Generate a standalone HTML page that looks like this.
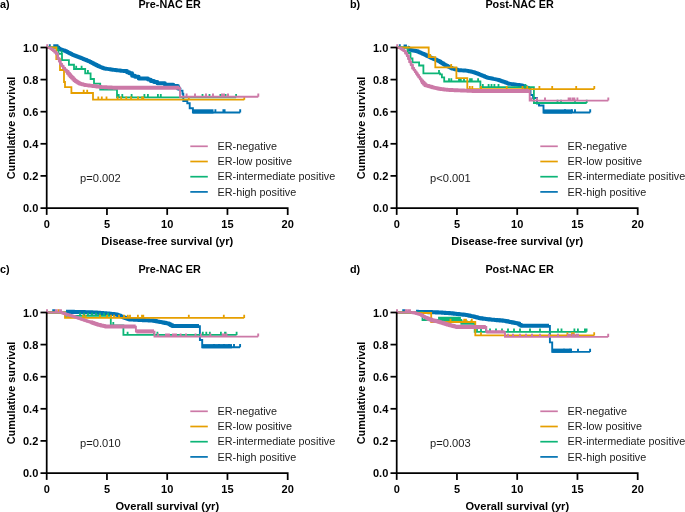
<!DOCTYPE html>
<html><head><meta charset="utf-8"><style>
html,body{margin:0;padding:0;background:#fff;width:685px;height:512px;overflow:hidden}
svg{display:block;will-change:transform}
text{font-family:"Liberation Sans",sans-serif}
.b10{font-weight:bold;font-size:10.8px;fill:#000}
.b11{font-weight:bold;font-size:11.1px;fill:#000}
.b11y{font-weight:bold;font-size:10.85px;fill:#000}
.tl{font-weight:bold;font-size:11px;fill:#000}
.lg{font-size:10.8px;fill:#1c1c1c}
.pv{font-size:11.15px;fill:#1c1c1c}
</style></head><body>
<svg width="685" height="512" viewBox="0 0 685 512">
<g transform="translate(0 0)">
<text x="-0.1" y="7.6" class="b10">a)</text>
<text x="169.6" y="7.9" class="b10" text-anchor="middle">Pre-NAC ER</text>
<text transform="translate(15.0 128) rotate(-90)" class="b11y" text-anchor="middle">Cumulative survival</text>
<text x="167.3" y="244.8" class="b11" text-anchor="middle">Disease-free survival (yr)</text>
<path d="M46.70 47.50 H58.00 H58.60 V48.80 H59.20 H59.84 V49.24 H61.12 V49.68 H62.40 V50.12 H63.68 V50.56 H64.96 V51.00 H65.60 H66.25 V51.67 H67.55 V52.33 H68.85 V53.00 H70.15 V53.67 H71.45 V54.33 H72.75 V55.00 H73.40 H74.06 V55.50 H75.38 V56.00 H76.69 V56.50 H78.01 V57.00 H79.33 V57.50 H80.64 V58.00 H81.30 H82.03 V58.60 H83.48 V59.20 H84.93 V59.80 H86.38 V60.40 H87.83 V61.00 H89.28 V61.60 H90.00 H90.74 V62.38 H92.22 V63.17 H93.71 V63.95 H95.19 V64.73 H96.68 V65.52 H98.16 V66.30 H98.90 H99.63 V66.85 H101.08 V67.40 H102.53 V67.95 H103.98 V68.50 H104.70 H105.36 V68.70 H106.69 V68.90 H108.02 V69.10 H109.35 V69.30 H110.68 V69.50 H112.01 V69.70 H113.34 V69.90 H114.00 H114.71 V70.06 H116.14 V70.21 H117.57 V70.37 H119.00 V70.53 H120.43 V70.69 H121.86 V70.84 H123.29 V71.00 H124.00 H127 V72.3 H129.3 V73.3 H132.1 V75.7 H135 V76.8 H138.7 V78.5 H148 V79.6 H150.8 V81 H154 V82 H157.4 V83.3 H164.9 V84.7 H173.3 V86 H177.9 V88.5 H179.5 V89.5 H180 V90.6 H182.5 V93.7 H183.3 V101 H187.3 V103.3 H189.7 V108.2 H192.9 V112.5 H240.2 M49.80 44.30 V47.50 M54.20 44.30 V47.50 M55.60 44.30 V47.50 M57.50 44.30 V47.50 M215.40 109.30 V112.50 M223.40 109.30 V112.50 M224.60 109.30 V112.50 M240.20 109.30 V112.50" stroke="#0072B2" stroke-width="1.9" fill="none" stroke-linejoin="miter" stroke-linecap="butt"/>
<path d="M58.00 47.50 H58.60 V48.80 H59.20 H59.84 V49.24 H61.12 V49.68 H62.40 V50.12 H63.68 V50.56 H64.96 V51.00 H65.60 H66.25 V51.67 H67.55 V52.33 H68.85 V53.00 H70.15 V53.67 H71.45 V54.33 H72.75 V55.00 H73.40 H74.06 V55.50 H75.38 V56.00 H76.69 V56.50 H78.01 V57.00 H79.33 V57.50 H80.64 V58.00 H81.30 H82.03 V58.60 H83.48 V59.20 H84.93 V59.80 H86.38 V60.40 H87.83 V61.00 H89.28 V61.60 H90.00 H90.74 V62.38 H92.22 V63.17 H93.71 V63.95 H95.19 V64.73 H96.68 V65.52 H98.16 V66.30 H98.90 H99.63 V66.85 H101.08 V67.40 H102.53 V67.95 H103.98 V68.50 H104.70 H105.36 V68.70 H106.69 V68.90 H108.02 V69.10 H109.35 V69.30 H110.68 V69.50 H112.01 V69.70 H113.34 V69.90 H114.00 H114.71 V70.06 H116.14 V70.21 H117.57 V70.37 H119.00 V70.53 H120.43 V70.69 H121.86 V70.84 H123.29 V71.00 H124.00 H127 V72.3 H129.3 V73.3 H132.1 V75.7 H135 V76.8 H138.7 V78.5 H148 V79.6 H150.8 V81 H154 V82 H157.4 V83.3 H164.9 V84.7 H173.3 V86 H177.9 V88.5 H179.5 V89.5" stroke="#0072B2" stroke-width="3.9" fill="none" stroke-linejoin="round"/>
<path d="M193 111.4 H213.5" stroke="#0072B2" stroke-width="4.2" fill="none" stroke-linejoin="round"/>
<path d="M46.7 47.5 H57.4 V50 H58.5 V53.8 H62 V60.1 H68.9 V64.75 H74 V69 H85.2 V73.3 H90.6 V79 H94 V83.6 H100.2 V89.5 H117 V97.3 H236.1 M61.70 50.60 V53.80 M76.20 65.80 V69.00 M81.60 65.80 V69.00 M87.90 70.10 V73.30 M118.70 94.10 V97.30 M122.30 94.10 V97.30 M131.60 94.10 V97.30 M144.40 94.10 V97.30 M147.90 94.10 V97.30 M157.90 94.10 V97.30 M160.80 94.10 V97.30 M202.50 94.10 V97.30 M209.50 94.10 V97.30 M220.40 94.10 V97.30 M225.60 94.10 V97.30 M236.10 94.10 V97.30" stroke="#0DB577" stroke-width="1.8" fill="none" stroke-linejoin="miter" stroke-linecap="butt"/>
<path d="M46.7 47.5 H56.3 V59.1 H60 V70 H64 V82 H65 V87.2 H71.4 V93 H93 V99.7 H244.3 M83.70 89.80 V93.00 M87.20 89.80 V93.00 M98.30 96.50 V99.70 M101.80 96.50 V99.70 M106.50 96.50 V99.70 M117.60 96.50 V99.70 M121.10 96.50 V99.70 M126.30 96.50 V99.70 M131.00 96.50 V99.70 M138.00 96.50 V99.70 M142.10 96.50 V99.70 M143.30 96.50 V99.70 M188.80 96.50 V99.70 M244.30 96.50 V99.70" stroke="#E69F00" stroke-width="1.8" fill="none" stroke-linejoin="miter" stroke-linecap="butt"/>
<path d="M46.70 47.50 H47.25 V47.67 H48.35 V47.83 H49.45 V48.00 H50.00 H50.65 V48.90 H51.95 V49.80 H53.25 V50.70 H53.90 H54.68 V52.25 H56.23 V53.80 H57.00 H57.80 V58.50 H58.60 H59.17 V61.25 H60.33 V64.00 H60.90 H61.68 V65.95 H63.23 V67.90 H64.00 H64.80 V69.85 H66.40 V71.80 H67.20 H67.85 V73.37 H69.15 V74.93 H70.45 V76.50 H71.10 H71.75 V77.80 H73.05 V79.10 H74.35 V80.40 H75.00 H75.59 V81.18 H76.76 V81.95 H77.94 V82.72 H79.11 V83.50 H79.70 H80.39 V83.88 H81.76 V84.25 H83.14 V84.62 H84.51 V85.00 H85.20 H85.85 V85.17 H87.15 V85.33 H88.45 V85.50 H89.75 V85.67 H91.05 V85.83 H92.35 V86.00 H93.00 H93.67 V86.16 H95.01 V86.31 H96.36 V86.47 H97.70 V86.63 H99.04 V86.79 H100.39 V86.94 H101.73 V87.10 H102.40 H103.04 V87.17 H104.33 V87.23 H105.62 V87.30 H106.91 V87.37 H108.20 V87.43 H109.49 V87.50 H110.78 V87.57 H112.07 V87.63 H113.36 V87.70 H114.00 H114.62 V87.71 H115.88 V87.72 H117.12 V87.74 H118.38 V87.75 H119.62 V87.76 H120.88 V87.78 H122.12 V87.79 H123.38 V87.80 H124.00 H180 V96.8 H258.3 M47.20 44.30 V47.50 M186.60 93.60 V96.80 M195.00 93.60 V96.80 M206.00 93.60 V96.80 M213.00 93.60 V96.80 M222.00 93.60 V96.80 M224.00 93.60 V96.80 M228.00 93.60 V96.80 M258.30 93.60 V96.80" stroke="#CC79A7" stroke-width="1.9" fill="none" stroke-linejoin="miter" stroke-linecap="butt"/>
<path d="M50.00 48.00 H50.65 V48.90 H51.95 V49.80 H53.25 V50.70 H53.90 H54.68 V52.25 H56.23 V53.80 H57.00 H57.80 V58.50 H58.60 H59.17 V61.25 H60.33 V64.00 H60.90 H61.68 V65.95 H63.23 V67.90 H64.00 H64.80 V69.85 H66.40 V71.80 H67.20" stroke="#CC79A7" stroke-width="2.5" fill="none" stroke-linejoin="round"/>
<path d="M67.20 71.80 H67.85 V73.37 H69.15 V74.93 H70.45 V76.50 H71.10 H71.75 V77.80 H73.05 V79.10 H74.35 V80.40 H75.00 H75.59 V81.18 H76.76 V81.95 H77.94 V82.72 H79.11 V83.50 H79.70 H80.39 V83.88 H81.76 V84.25 H83.14 V84.62 H84.51 V85.00 H85.20 H85.85 V85.17 H87.15 V85.33 H88.45 V85.50 H89.75 V85.67 H91.05 V85.83 H92.35 V86.00 H93.00 H93.67 V86.16 H95.01 V86.31 H96.36 V86.47 H97.70 V86.63 H99.04 V86.79 H100.39 V86.94 H101.73 V87.10 H102.40 H103.04 V87.17 H104.33 V87.23 H105.62 V87.30 H106.91 V87.37 H108.20 V87.43 H109.49 V87.50 H110.78 V87.57 H112.07 V87.63 H113.36 V87.70 H114.00 H114.62 V87.71 H115.88 V87.72 H117.12 V87.74 H118.38 V87.75 H119.62 V87.76 H120.88 V87.78 H122.12 V87.79 H123.38 V87.80 H124.00 H179" stroke="#CC79A7" stroke-width="3.9" fill="none" stroke-linejoin="round"/>
<path d="M46.7 47.2 V214.9" stroke="#000" stroke-width="1.75" fill="none"/>
<path d="M40.5 208.0 H287.70 V214.9" stroke="#000" stroke-width="1.75" fill="none"/>
<path d="M40.5 175.90 H46.7" stroke="#000" stroke-width="1.75"/>
<path d="M40.5 143.80 H46.7" stroke="#000" stroke-width="1.75"/>
<path d="M40.5 111.70 H46.7" stroke="#000" stroke-width="1.75"/>
<path d="M40.5 79.60 H46.7" stroke="#000" stroke-width="1.75"/>
<path d="M40.5 47.50 H46.7" stroke="#000" stroke-width="1.75"/>
<path d="M106.95 208.0 V214.9" stroke="#000" stroke-width="1.75"/>
<path d="M167.20 208.0 V214.9" stroke="#000" stroke-width="1.75"/>
<path d="M227.45 208.0 V214.9" stroke="#000" stroke-width="1.75"/>
<text x="38.3" y="212.20" class="tl" text-anchor="end">0.0</text>
<text x="38.3" y="180.10" class="tl" text-anchor="end">0.2</text>
<text x="38.3" y="148.00" class="tl" text-anchor="end">0.4</text>
<text x="38.3" y="115.90" class="tl" text-anchor="end">0.6</text>
<text x="38.3" y="83.80" class="tl" text-anchor="end">0.8</text>
<text x="38.3" y="51.70" class="tl" text-anchor="end">1.0</text>
<text x="46.70" y="227.7" class="tl" text-anchor="middle">0</text>
<text x="106.95" y="227.7" class="tl" text-anchor="middle">5</text>
<text x="167.20" y="227.7" class="tl" text-anchor="middle">10</text>
<text x="227.45" y="227.7" class="tl" text-anchor="middle">15</text>
<text x="287.70" y="227.7" class="tl" text-anchor="middle">20</text>
<path d="M190.3 146.30 H207.8" stroke="#CC79A7" stroke-width="1.7"/>
<text x="217.6" y="150.00" class="lg">ER-negative</text>
<path d="M190.3 161.50 H207.8" stroke="#E69F00" stroke-width="1.7"/>
<text x="217.6" y="165.20" class="lg">ER-low positive</text>
<path d="M190.3 176.70 H207.8" stroke="#0DB577" stroke-width="1.7"/>
<text x="217.6" y="180.40" class="lg">ER-intermediate positive</text>
<path d="M190.3 191.90 H207.8" stroke="#0072B2" stroke-width="1.7"/>
<text x="217.6" y="195.60" class="lg">ER-high positive</text>
<text x="80.0" y="181.7" class="pv">p=0.002</text>
</g>
<g transform="translate(350 0)">
<text x="-0.1" y="7.6" class="b10">b)</text>
<text x="169.6" y="7.9" class="b10" text-anchor="middle">Post-NAC ER</text>
<text transform="translate(15.0 128) rotate(-90)" class="b11y" text-anchor="middle">Cumulative survival</text>
<text x="167.3" y="244.8" class="b11" text-anchor="middle">Disease-free survival (yr)</text>
<path d="M46.70 47.50 H47.41 V47.51 H48.82 V47.52 H50.23 V47.54 H51.64 V47.55 H53.06 V47.56 H54.47 V47.58 H55.88 V47.59 H57.29 V47.60 H58.00 H58.60 V49.60 H59.20 H59.88 V49.88 H61.25 V50.17 H62.62 V50.45 H63.98 V50.73 H65.35 V51.02 H66.72 V51.30 H67.40 H68.10 V51.90 H69.50 V52.50 H70.90 V53.10 H72.30 V53.70 H73.70 V54.30 H74.40 H75.10 V55.00 H76.50 V55.70 H77.90 V56.40 H79.30 V57.10 H80.70 V57.80 H81.40 H82.10 V58.38 H83.50 V58.96 H84.90 V59.54 H86.30 V60.12 H87.70 V60.70 H88.40 H89.10 V61.56 H90.50 V62.42 H91.90 V63.28 H93.30 V64.14 H94.70 V65.00 H95.40 H96.10 V65.70 H97.50 V66.40 H98.90 V67.10 H100.30 V67.80 H101.70 V68.50 H102.40 H103.10 V68.84 H104.50 V69.18 H105.90 V69.52 H107.30 V69.86 H108.70 V70.20 H109.40 H110.10 V70.28 H111.50 V70.36 H112.90 V70.44 H114.30 V70.52 H115.70 V70.60 H116.40 H117.16 V70.92 H118.68 V71.24 H120.20 V71.56 H121.72 V71.88 H123.24 V72.20 H124.00 H124.70 V72.74 H126.10 V73.28 H127.50 V73.82 H128.90 V74.36 H130.30 V74.90 H131.00 H131.70 V75.48 H133.10 V76.06 H134.50 V76.64 H135.90 V77.22 H137.30 V77.80 H138.00 H138.67 V78.06 H140.01 V78.31 H141.36 V78.57 H142.70 V78.83 H144.04 V79.09 H145.39 V79.34 H146.73 V79.60 H147.40 H148.10 V80.06 H149.50 V80.52 H150.90 V80.98 H152.30 V81.44 H153.70 V81.90 H154.40 H155.17 V82.50 H156.70 V83.10 H158.23 V83.70 H159.00 H159.72 V83.89 H161.15 V84.08 H162.58 V84.27 H164.02 V84.46 H165.45 V84.64 H166.88 V84.83 H168.32 V85.02 H169.75 V85.21 H171.18 V85.40 H171.90 H172.60 V86.00 H174.00 V86.60 H175.40 V87.20 H176.80 V87.80 H178.20 V88.40 H178.90 H180.5 V95 H183 V98 H187 V103.5 H189 V105.5 H193.5 V112.5 H240.2 M49.80 44.32 V47.52 M54.50 44.38 V47.58 M56.00 44.39 V47.59 M215.00 109.30 V112.50 M222.00 109.30 V112.50 M225.00 109.30 V112.50 M240.20 109.30 V112.50" stroke="#0072B2" stroke-width="1.9" fill="none" stroke-linejoin="miter" stroke-linecap="butt"/>
<path d="M58.00 47.60 H58.60 V49.60 H59.20 H59.88 V49.88 H61.25 V50.17 H62.62 V50.45 H63.98 V50.73 H65.35 V51.02 H66.72 V51.30 H67.40 H68.10 V51.90 H69.50 V52.50 H70.90 V53.10 H72.30 V53.70 H73.70 V54.30 H74.40 H75.10 V55.00 H76.50 V55.70 H77.90 V56.40 H79.30 V57.10 H80.70 V57.80 H81.40 H82.10 V58.38 H83.50 V58.96 H84.90 V59.54 H86.30 V60.12 H87.70 V60.70 H88.40 H89.10 V61.56 H90.50 V62.42 H91.90 V63.28 H93.30 V64.14 H94.70 V65.00 H95.40 H96.10 V65.70 H97.50 V66.40 H98.90 V67.10 H100.30 V67.80 H101.70 V68.50 H102.40 H103.10 V68.84 H104.50 V69.18 H105.90 V69.52 H107.30 V69.86 H108.70 V70.20 H109.40 H110.10 V70.28 H111.50 V70.36 H112.90 V70.44 H114.30 V70.52 H115.70 V70.60 H116.40 H117.16 V70.92 H118.68 V71.24 H120.20 V71.56 H121.72 V71.88 H123.24 V72.20 H124.00 H124.70 V72.74 H126.10 V73.28 H127.50 V73.82 H128.90 V74.36 H130.30 V74.90 H131.00 H131.70 V75.48 H133.10 V76.06 H134.50 V76.64 H135.90 V77.22 H137.30 V77.80 H138.00 H138.67 V78.06 H140.01 V78.31 H141.36 V78.57 H142.70 V78.83 H144.04 V79.09 H145.39 V79.34 H146.73 V79.60 H147.40 H148.10 V80.06 H149.50 V80.52 H150.90 V80.98 H152.30 V81.44 H153.70 V81.90 H154.40 H155.17 V82.50 H156.70 V83.10 H158.23 V83.70 H159.00 H159.72 V83.89 H161.15 V84.08 H162.58 V84.27 H164.02 V84.46 H165.45 V84.64 H166.88 V84.83 H168.32 V85.02 H169.75 V85.21 H171.18 V85.40 H171.90 H172.60 V86.00 H174.00 V86.60 H175.40 V87.20 H176.80 V87.80 H178.20 V88.40 H178.90" stroke="#0072B2" stroke-width="3.9" fill="none" stroke-linejoin="round"/>
<path d="M193.5 111.5 H222" stroke="#0072B2" stroke-width="4.2" fill="none" stroke-linejoin="round"/>
<path d="M46.7 47.5 H57.8 V53 H60.5 V58.5 H62.5 V62.4 H69.1 V65.5 H73.4 V73.3 H90.1 V74.3 H91.9 V77.3 H94.2 V81.5 H130.4 V87.2 H183.9 V103 H236.7 M89.00 70.10 V73.30 M99.00 78.30 V81.50 M101.30 78.30 V81.50 M109.00 78.30 V81.50 M110.80 78.30 V81.50 M114.00 78.30 V81.50 M120.00 78.30 V81.50 M121.80 78.30 V81.50 M128.10 78.30 V81.50 M132.80 84.00 V87.20 M138.60 84.00 V87.20 M141.50 84.00 V87.20 M144.40 84.00 V87.20 M148.50 84.00 V87.20 M175.40 84.00 V87.20 M207.50 99.80 V103.00 M211.00 99.80 V103.00 M225.00 99.80 V103.00 M236.70 99.80 V103.00" stroke="#0DB577" stroke-width="1.8" fill="none" stroke-linejoin="miter" stroke-linecap="butt"/>
<path d="M46.7 47.5 H78.7 V57.1 H85.3 V67.3 H106.4 V78.1 H117.3 V89.1 H244.3 M80.20 53.90 V57.10 M101.20 64.10 V67.30 M119.80 85.90 V89.10 M122.30 85.90 V89.10 M131.00 85.90 V89.10 M156.70 85.90 V89.10 M172.50 85.90 V89.10 M177.20 85.90 V89.10 M189.40 85.90 V89.10 M202.20 85.90 V89.10 M226.20 85.90 V89.10 M244.30 85.90 V89.10" stroke="#E69F00" stroke-width="1.8" fill="none" stroke-linejoin="miter" stroke-linecap="butt"/>
<path d="M46.70 47.50 H47.25 V47.63 H48.35 V47.77 H49.45 V47.90 H50.00 H50.59 V48.67 H51.76 V49.45 H52.94 V50.23 H54.11 V51.00 H54.70 H55.48 V53.35 H57.02 V55.70 H57.80 H58.40 V58.85 H59.60 V62.00 H60.20 H60.98 V65.10 H62.52 V68.20 H63.30 H63.89 V69.95 H65.06 V71.70 H66.24 V73.45 H67.41 V75.20 H68.00 H68.65 V77.23 H69.95 V79.27 H71.25 V81.30 H71.90 H72.55 V82.60 H73.85 V83.90 H75.15 V85.20 H75.80 H76.48 V85.60 H77.85 V86.00 H79.22 V86.40 H80.58 V86.80 H81.95 V87.20 H83.32 V87.60 H84.00 H84.67 V87.88 H86.01 V88.16 H87.35 V88.44 H88.69 V88.72 H90.03 V89.00 H90.70 H91.34 V89.15 H92.62 V89.30 H93.91 V89.45 H95.19 V89.60 H96.48 V89.75 H97.76 V89.90 H98.40 H99.04 V89.96 H100.32 V90.01 H101.60 V90.06 H102.88 V90.12 H104.16 V90.18 H105.44 V90.23 H106.72 V90.28 H108.00 V90.34 H109.28 V90.40 H110.56 V90.45 H111.84 V90.50 H113.12 V90.56 H114.40 V90.62 H115.68 V90.67 H116.96 V90.72 H118.24 V90.78 H119.52 V90.84 H120.80 V90.89 H122.08 V90.94 H123.36 V91.00 H124.00 H179.7 V100.6 H258.3 M47.20 44.30 V47.50 M181.50 97.40 V100.60 M187.00 97.40 V100.60 M195.00 97.40 V100.60 M218.60 97.40 V100.60 M220.40 97.40 V100.60 M222.70 97.40 V100.60 M224.40 97.40 V100.60 M227.40 97.40 V100.60 M258.30 97.40 V100.60" stroke="#CC79A7" stroke-width="1.9" fill="none" stroke-linejoin="miter" stroke-linecap="butt"/>
<path d="M50.00 47.90 H50.59 V48.67 H51.76 V49.45 H52.94 V50.23 H54.11 V51.00 H54.70 H55.48 V53.35 H57.02 V55.70 H57.80 H58.40 V58.85 H59.60 V62.00 H60.20 H60.98 V65.10 H62.52 V68.20 H63.30 H63.89 V69.95 H65.06 V71.70 H66.24 V73.45 H67.41 V75.20 H68.00 H68.65 V77.03 H69.95 V78.87 H71.25 V80.70 H71.90" stroke="#CC79A7" stroke-width="2.5" fill="none" stroke-linejoin="round"/>
<path d="M71.90 81.30 H72.55 V82.60 H73.85 V83.90 H75.15 V85.20 H75.80 H76.48 V85.60 H77.85 V86.00 H79.22 V86.40 H80.58 V86.80 H81.95 V87.20 H83.32 V87.60 H84.00 H84.67 V87.88 H86.01 V88.16 H87.35 V88.44 H88.69 V88.72 H90.03 V89.00 H90.70 H91.34 V89.15 H92.62 V89.30 H93.91 V89.45 H95.19 V89.60 H96.48 V89.75 H97.76 V89.90 H98.40 H99.04 V89.96 H100.32 V90.01 H101.60 V90.06 H102.88 V90.12 H104.16 V90.18 H105.44 V90.23 H106.72 V90.28 H108.00 V90.34 H109.28 V90.40 H110.56 V90.45 H111.84 V90.50 H113.12 V90.56 H114.40 V90.62 H115.68 V90.67 H116.96 V90.72 H118.24 V90.78 H119.52 V90.84 H120.80 V90.89 H122.08 V90.94 H123.36 V91.00 H124.00 H179" stroke="#CC79A7" stroke-width="3.9" fill="none" stroke-linejoin="round"/>
<path d="M46.7 47.2 V214.9" stroke="#000" stroke-width="1.75" fill="none"/>
<path d="M40.5 208.0 H287.70 V214.9" stroke="#000" stroke-width="1.75" fill="none"/>
<path d="M40.5 175.90 H46.7" stroke="#000" stroke-width="1.75"/>
<path d="M40.5 143.80 H46.7" stroke="#000" stroke-width="1.75"/>
<path d="M40.5 111.70 H46.7" stroke="#000" stroke-width="1.75"/>
<path d="M40.5 79.60 H46.7" stroke="#000" stroke-width="1.75"/>
<path d="M40.5 47.50 H46.7" stroke="#000" stroke-width="1.75"/>
<path d="M106.95 208.0 V214.9" stroke="#000" stroke-width="1.75"/>
<path d="M167.20 208.0 V214.9" stroke="#000" stroke-width="1.75"/>
<path d="M227.45 208.0 V214.9" stroke="#000" stroke-width="1.75"/>
<text x="38.3" y="212.20" class="tl" text-anchor="end">0.0</text>
<text x="38.3" y="180.10" class="tl" text-anchor="end">0.2</text>
<text x="38.3" y="148.00" class="tl" text-anchor="end">0.4</text>
<text x="38.3" y="115.90" class="tl" text-anchor="end">0.6</text>
<text x="38.3" y="83.80" class="tl" text-anchor="end">0.8</text>
<text x="38.3" y="51.70" class="tl" text-anchor="end">1.0</text>
<text x="46.70" y="227.7" class="tl" text-anchor="middle">0</text>
<text x="106.95" y="227.7" class="tl" text-anchor="middle">5</text>
<text x="167.20" y="227.7" class="tl" text-anchor="middle">10</text>
<text x="227.45" y="227.7" class="tl" text-anchor="middle">15</text>
<text x="287.70" y="227.7" class="tl" text-anchor="middle">20</text>
<path d="M190.3 146.30 H207.8" stroke="#CC79A7" stroke-width="1.7"/>
<text x="217.6" y="150.00" class="lg">ER-negative</text>
<path d="M190.3 161.50 H207.8" stroke="#E69F00" stroke-width="1.7"/>
<text x="217.6" y="165.20" class="lg">ER-low positive</text>
<path d="M190.3 176.70 H207.8" stroke="#0DB577" stroke-width="1.7"/>
<text x="217.6" y="180.40" class="lg">ER-intermediate positive</text>
<path d="M190.3 191.90 H207.8" stroke="#0072B2" stroke-width="1.7"/>
<text x="217.6" y="195.60" class="lg">ER-high positive</text>
<text x="80.0" y="181.7" class="pv">p&lt;0.001</text>
</g>
<g transform="translate(0 265)">
<text x="-0.1" y="7.6" class="b10">c)</text>
<text x="169.6" y="7.9" class="b10" text-anchor="middle">Pre-NAC ER</text>
<text transform="translate(15.0 128) rotate(-90)" class="b11y" text-anchor="middle">Cumulative survival</text>
<text x="167.3" y="244.8" class="b11" text-anchor="middle">Overall survival (yr)</text>
<path d="M46.70 47.50 H47.43 V47.51 H48.88 V47.51 H50.34 V47.52 H51.80 V47.52 H53.25 V47.53 H54.71 V47.54 H56.17 V47.54 H57.62 V47.55 H59.08 V47.56 H60.53 V47.56 H61.99 V47.57 H63.45 V47.58 H64.90 V47.58 H66.36 V47.59 H67.82 V47.59 H69.27 V47.60 H70.00 H70.73 V47.62 H72.18 V47.64 H73.64 V47.65 H75.09 V47.67 H76.55 V47.69 H78.00 V47.71 H79.45 V47.73 H80.91 V47.75 H82.36 V47.76 H83.82 V47.78 H85.27 V47.80 H86.00 H86.75 V47.83 H88.25 V47.87 H89.75 V47.90 H91.25 V47.93 H92.75 V47.97 H94.25 V48.00 H95.00 H95.78 V48.11 H97.34 V48.23 H98.89 V48.34 H100.45 V48.46 H102.01 V48.57 H103.56 V48.69 H105.12 V48.80 H105.90 H106.68 V48.97 H108.24 V49.14 H109.79 V49.31 H111.35 V49.49 H112.91 V49.66 H114.46 V49.83 H116.02 V50.00 H116.80 H117.52 V50.56 H118.96 V51.12 H120.40 V51.68 H121.84 V52.24 H123.28 V52.80 H124.00 H124.72 V53.25 H126.18 V53.70 H127.63 V54.15 H129.08 V54.60 H129.80 H130.53 V54.68 H131.99 V54.75 H133.46 V54.83 H134.92 V54.90 H136.38 V54.98 H137.84 V55.05 H139.31 V55.12 H140.77 V55.20 H141.50 H142.23 V55.28 H143.69 V55.35 H145.16 V55.42 H146.62 V55.50 H148.08 V55.58 H149.54 V55.65 H151.01 V55.72 H152.47 V55.80 H153.20 H153.92 V56.07 H155.38 V56.35 H156.83 V56.62 H158.28 V56.90 H159.00 H159.78 V57.20 H161.35 V57.50 H162.92 V57.80 H164.48 V58.10 H166.05 V58.40 H167.62 V58.70 H168.40 H169.17 V59.53 H170.70 V60.37 H172.23 V61.20 H173.00 H199.9 V75 H202.2 V82.3 H240.1 M53.20 44.32 V47.52 M54.40 44.33 V47.53 M214.00 79.10 V82.30 M219.00 79.10 V82.30 M224.00 79.10 V82.30 M229.00 79.10 V82.30 M234.00 79.10 V82.30 M240.10 79.10 V82.30" stroke="#0072B2" stroke-width="1.9" fill="none" stroke-linejoin="miter" stroke-linecap="butt"/>
<path d="M66.00 46.70 H66.77 V46.74 H68.31 V46.78 H69.85 V46.82 H71.38 V46.85 H72.92 V46.89 H74.46 V46.93 H76.00 V46.97 H77.54 V47.01 H79.08 V47.05 H80.62 V47.08 H82.15 V47.12 H83.69 V47.16 H85.23 V47.20 H86.00 H86.75 V47.25 H88.25 V47.30 H89.75 V47.35 H91.25 V47.40 H92.75 V47.45 H94.25 V47.50 H95.00 H95.78 V47.61 H97.34 V47.73 H98.89 V47.84 H100.45 V47.96 H102.01 V48.07 H103.56 V48.19 H105.12 V48.30 H105.90 H106.68 V48.47 H108.24 V48.64 H109.79 V48.81 H111.35 V48.99 H112.91 V49.16 H114.46 V49.33 H116.02 V49.50 H116.80 H117.52 V50.08 H118.96 V50.66 H120.40 V51.24 H121.84 V51.82 H123.28 V52.40 H124.00 H124.72 V52.90 H126.18 V53.40 H127.63 V53.90 H129.08 V54.40 H129.80 H130.53 V54.48 H131.99 V54.55 H133.46 V54.62 H134.92 V54.70 H136.38 V54.77 H137.84 V54.85 H139.31 V54.92 H140.77 V55.00 H141.50 H142.23 V55.08 H143.69 V55.15 H145.16 V55.23 H146.62 V55.30 H148.08 V55.38 H149.54 V55.45 H151.01 V55.52 H152.47 V55.60 H153.20 H153.92 V55.88 H155.38 V56.15 H156.83 V56.43 H158.28 V56.70 H159.00 H159.78 V57.00 H161.35 V57.30 H162.92 V57.60 H164.48 V57.90 H166.05 V58.20 H167.62 V58.50 H168.40 H169.17 V59.33 H170.70 V60.17 H172.23 V61.00 H173.00 H199" stroke="#0072B2" stroke-width="4.1" fill="none" stroke-linejoin="round"/>
<path d="M202.2 81.2 H232" stroke="#0072B2" stroke-width="4.2" fill="none" stroke-linejoin="round"/>
<path d="M46.7 47.5 H65.5 V50.9 H110.8 V60.3 H123.4 V69.9 H236.6 M80.00 47.70 V50.90 M84.00 47.70 V50.90 M88.00 47.70 V50.90 M92.00 47.70 V50.90 M96.00 47.70 V50.90 M100.00 47.70 V50.90 M104.00 47.70 V50.90 M108.00 47.70 V50.90 M113.30 57.10 V60.30 M127.60 66.70 V69.90 M154.00 66.70 V69.90 M157.40 66.70 V69.90 M202.80 66.70 V69.90 M206.30 66.70 V69.90 M209.80 66.70 V69.90 M220.90 66.70 V69.90 M225.00 66.70 V69.90 M225.60 66.70 V69.90 M236.60 66.70 V69.90" stroke="#0DB577" stroke-width="1.8" fill="none" stroke-linejoin="miter" stroke-linecap="butt"/>
<path d="M46.7 47.5 H65 V52.9 H244.2 M58.50 44.30 V47.50 M68.00 49.70 V52.90 M83.00 49.70 V52.90 M85.50 49.70 V52.90 M100.00 49.70 V52.90 M107.00 49.70 V52.90 M111.00 49.70 V52.90 M114.00 49.70 V52.90 M119.00 49.70 V52.90 M124.00 49.70 V52.90 M127.80 49.70 V52.90 M130.00 49.70 V52.90 M137.90 49.70 V52.90 M142.00 49.70 V52.90 M143.30 49.70 V52.90 M188.80 49.70 V52.90 M223.80 49.70 V52.90 M244.20 49.70 V52.90" stroke="#E69F00" stroke-width="1.8" fill="none" stroke-linejoin="miter" stroke-linecap="butt"/>
<path d="M46.7 47.5 H61.5  H62.23 V48.00 H63.70 V48.50 H65.17 V49.00 H65.90 H66.63 V49.44 H68.09 V49.88 H69.55 V50.32 H71.01 V50.76 H72.47 V51.20 H73.20 H73.93 V51.72 H75.39 V52.24 H76.85 V52.76 H78.31 V53.28 H79.77 V53.80 H80.50 H81.23 V54.30 H82.69 V54.80 H84.15 V55.30 H85.61 V55.80 H87.07 V56.30 H87.80 H88.67 V56.75 H90.42 V57.20 H91.30 H92.03 V57.72 H93.49 V58.24 H94.95 V58.76 H96.41 V59.28 H97.87 V59.80 H98.60 H99.33 V60.12 H100.79 V60.44 H102.25 V60.76 H103.71 V61.08 H105.17 V61.40 H105.90 H116.80 H117.52 V61.44 H118.96 V61.48 H120.40 V61.52 H121.84 V61.56 H123.28 V61.60 H124.00 H135.9 V66.6 H154.5 V71.6 H258.2 M47.00 44.30 V47.50 M55.80 44.30 V47.50 M56.80 44.30 V47.50 M60.00 44.30 V47.50 M61.00 44.30 V47.50 M158.00 68.40 V71.60 M166.00 68.40 V71.60 M167.50 68.40 V71.60 M169.00 68.40 V71.60 M173.00 68.40 V71.60 M174.50 68.40 V71.60 M176.00 68.40 V71.60 M180.60 68.40 V71.60 M186.00 68.40 V71.60 M195.50 68.40 V71.60 M200.80 68.40 V71.60 M210.40 68.40 V71.60 M222.70 68.40 V71.60 M224.50 68.40 V71.60 M226.50 68.40 V71.60 M258.20 68.40 V71.60" stroke="#CC79A7" stroke-width="1.9" fill="none" stroke-linejoin="miter" stroke-linecap="butt"/>
<path d="M61.50 47.50 H62.23 V48.00 H63.70 V48.50 H65.17 V49.00 H65.90 H66.63 V49.44 H68.09 V49.88 H69.55 V50.32 H71.01 V50.76 H72.47 V51.20 H73.20 H73.93 V51.72 H75.39 V52.24 H76.85 V52.76 H78.31 V53.28 H79.77 V53.80 H80.50 H81.23 V54.30 H82.69 V54.80 H84.15 V55.30 H85.61 V55.80 H87.07 V56.30 H87.80 H88.67 V56.75 H90.42 V57.20 H91.30" stroke="#CC79A7" stroke-width="3.0" fill="none" stroke-linejoin="round"/>
<path d="M91.30 57.20 H92.03 V57.72 H93.49 V58.24 H94.95 V58.76 H96.41 V59.28 H97.87 V59.80 H98.60 H99.33 V60.12 H100.79 V60.44 H102.25 V60.76 H103.71 V61.08 H105.17 V61.40 H105.90 H116.80 H117.52 V61.44 H118.96 V61.48 H120.40 V61.52 H121.84 V61.56 H123.28 V61.60 H124.00 H135.7" stroke="#CC79A7" stroke-width="4.0" fill="none" stroke-linejoin="round"/>
<path d="M136.3 66.4 H154" stroke="#CC79A7" stroke-width="4.1" fill="none" stroke-linejoin="round"/>
<path d="M46.7 47.2 V214.9" stroke="#000" stroke-width="1.75" fill="none"/>
<path d="M40.5 208.0 H287.70 V214.9" stroke="#000" stroke-width="1.75" fill="none"/>
<path d="M40.5 175.90 H46.7" stroke="#000" stroke-width="1.75"/>
<path d="M40.5 143.80 H46.7" stroke="#000" stroke-width="1.75"/>
<path d="M40.5 111.70 H46.7" stroke="#000" stroke-width="1.75"/>
<path d="M40.5 79.60 H46.7" stroke="#000" stroke-width="1.75"/>
<path d="M40.5 47.50 H46.7" stroke="#000" stroke-width="1.75"/>
<path d="M106.95 208.0 V214.9" stroke="#000" stroke-width="1.75"/>
<path d="M167.20 208.0 V214.9" stroke="#000" stroke-width="1.75"/>
<path d="M227.45 208.0 V214.9" stroke="#000" stroke-width="1.75"/>
<text x="38.3" y="212.20" class="tl" text-anchor="end">0.0</text>
<text x="38.3" y="180.10" class="tl" text-anchor="end">0.2</text>
<text x="38.3" y="148.00" class="tl" text-anchor="end">0.4</text>
<text x="38.3" y="115.90" class="tl" text-anchor="end">0.6</text>
<text x="38.3" y="83.80" class="tl" text-anchor="end">0.8</text>
<text x="38.3" y="51.70" class="tl" text-anchor="end">1.0</text>
<text x="46.70" y="227.7" class="tl" text-anchor="middle">0</text>
<text x="106.95" y="227.7" class="tl" text-anchor="middle">5</text>
<text x="167.20" y="227.7" class="tl" text-anchor="middle">10</text>
<text x="227.45" y="227.7" class="tl" text-anchor="middle">15</text>
<text x="287.70" y="227.7" class="tl" text-anchor="middle">20</text>
<path d="M190.3 146.30 H207.8" stroke="#CC79A7" stroke-width="1.7"/>
<text x="217.6" y="150.00" class="lg">ER-negative</text>
<path d="M190.3 161.50 H207.8" stroke="#E69F00" stroke-width="1.7"/>
<text x="217.6" y="165.20" class="lg">ER-low positive</text>
<path d="M190.3 176.70 H207.8" stroke="#0DB577" stroke-width="1.7"/>
<text x="217.6" y="180.40" class="lg">ER-intermediate positive</text>
<path d="M190.3 191.90 H207.8" stroke="#0072B2" stroke-width="1.7"/>
<text x="217.6" y="195.60" class="lg">ER-high positive</text>
<text x="80.0" y="181.7" class="pv">p=0.010</text>
</g>
<g transform="translate(350 265)">
<text x="-0.1" y="7.6" class="b10">d)</text>
<text x="169.6" y="7.9" class="b10" text-anchor="middle">Post-NAC ER</text>
<text transform="translate(15.0 128) rotate(-90)" class="b11y" text-anchor="middle">Cumulative survival</text>
<text x="167.3" y="244.8" class="b11" text-anchor="middle">Overall survival (yr)</text>
<path d="M46.70 47.50 H47.46 V47.50 H48.97 V47.51 H50.48 V47.51 H52.00 V47.52 H53.51 V47.52 H55.02 V47.53 H56.54 V47.53 H58.05 V47.54 H59.57 V47.54 H61.08 V47.55 H62.59 V47.55 H64.11 V47.55 H65.62 V47.56 H67.13 V47.56 H68.65 V47.57 H70.16 V47.57 H71.68 V47.58 H73.19 V47.58 H74.70 V47.59 H76.22 V47.59 H77.73 V47.60 H79.24 V47.60 H80.00 H80.76 V47.63 H82.29 V47.66 H83.82 V47.69 H85.35 V47.71 H86.88 V47.74 H88.41 V47.77 H89.94 V47.80 H90.70 H91.43 V47.92 H92.89 V48.05 H94.36 V48.17 H95.82 V48.30 H97.28 V48.42 H98.74 V48.55 H100.21 V48.67 H101.67 V48.80 H102.40 H103.18 V48.97 H104.75 V49.13 H106.32 V49.30 H107.88 V49.47 H109.45 V49.63 H111.02 V49.80 H112.58 V49.97 H114.15 V50.13 H115.72 V50.30 H116.50 H117.25 V50.48 H118.75 V50.66 H120.25 V50.84 H121.75 V51.02 H123.25 V51.20 H124.00 H124.72 V51.55 H126.18 V51.90 H127.63 V52.25 H129.08 V52.60 H129.80 H130.58 V52.80 H132.15 V53.00 H133.72 V53.20 H135.28 V53.40 H136.85 V53.60 H138.42 V53.80 H139.20 H139.96 V53.92 H141.48 V54.04 H143.00 V54.16 H144.52 V54.28 H146.04 V54.40 H147.56 V54.52 H149.08 V54.64 H150.60 V54.76 H152.12 V54.88 H153.64 V55.00 H154.40 H155.18 V55.34 H156.73 V55.69 H158.29 V56.03 H159.84 V56.38 H161.40 V56.72 H162.96 V57.07 H164.51 V57.41 H166.07 V57.76 H167.62 V58.10 H168.40 H169.28 V59.55 H171.03 V61.00 H171.90 H199.9 V77.4 H202.2 V86.9 H240.1 M53.20 44.32 V47.52 M54.40 44.32 V47.52 M214.00 83.70 V86.90 M220.00 83.70 V86.90 M228.00 83.70 V86.90 M240.10 83.70 V86.90" stroke="#0072B2" stroke-width="1.9" fill="none" stroke-linejoin="miter" stroke-linecap="butt"/>
<path d="M66.00 46.90 H66.78 V46.92 H68.33 V46.94 H69.89 V46.97 H71.44 V46.99 H73.00 V47.01 H74.56 V47.03 H76.11 V47.06 H77.67 V47.08 H79.22 V47.10 H80.00 H80.76 V47.16 H82.29 V47.21 H83.82 V47.27 H85.35 V47.33 H86.88 V47.39 H88.41 V47.44 H89.94 V47.50 H90.70 H91.43 V47.61 H92.89 V47.73 H94.36 V47.84 H95.82 V47.95 H97.28 V48.06 H98.74 V48.17 H100.21 V48.29 H101.67 V48.40 H102.40 H103.18 V48.58 H104.75 V48.76 H106.32 V48.93 H107.88 V49.11 H109.45 V49.29 H111.02 V49.47 H112.58 V49.64 H114.15 V49.82 H115.72 V50.00 H116.50 H117.25 V50.32 H118.75 V50.64 H120.25 V50.96 H121.75 V51.28 H123.25 V51.60 H124.00 H124.75 V52.00 H126.25 V52.40 H127.75 V52.80 H129.25 V53.20 H130.00 H130.77 V53.40 H132.30 V53.60 H133.83 V53.80 H135.37 V54.00 H136.90 V54.20 H138.43 V54.40 H139.20 H139.96 V54.54 H141.48 V54.68 H143.00 V54.82 H144.52 V54.96 H146.04 V55.10 H147.56 V55.24 H149.08 V55.38 H150.60 V55.52 H152.12 V55.66 H153.64 V55.80 H154.40 H155.18 V56.11 H156.73 V56.42 H158.29 V56.73 H159.84 V57.04 H161.40 V57.36 H162.96 V57.67 H164.51 V57.98 H166.07 V58.29 H167.62 V58.60 H168.40 H169.28 V59.70 H171.03 V60.80 H171.90 H199" stroke="#0072B2" stroke-width="4.1" fill="none" stroke-linejoin="round"/>
<path d="M202.2 85.7 H222" stroke="#0072B2" stroke-width="4.2" fill="none" stroke-linejoin="round"/>
<path d="M46.7 47.5 H72.5 V55 H111.3 V58.8 H124.7 V66.8 H236.6 M75.00 51.80 V55.00 M89.00 51.80 V55.00 M90.50 51.80 V55.00 M92.00 51.80 V55.00 M93.50 51.80 V55.00 M95.00 51.80 V55.00 M96.50 51.80 V55.00 M98.00 51.80 V55.00 M99.50 51.80 V55.00 M101.00 51.80 V55.00 M102.50 51.80 V55.00 M104.00 51.80 V55.00 M105.50 51.80 V55.00 M107.00 51.80 V55.00 M108.50 51.80 V55.00 M110.00 51.80 V55.00 M113.00 55.60 V58.80 M117.00 55.60 V58.80 M121.00 55.60 V58.80 M127.00 63.60 V66.80 M131.00 63.60 V66.80 M136.00 63.60 V66.80 M140.00 63.60 V66.80 M146.00 63.60 V66.80 M152.00 63.60 V66.80 M158.00 63.60 V66.80 M164.00 63.60 V66.80 M170.00 63.60 V66.80 M180.00 63.60 V66.80 M190.00 63.60 V66.80 M208.00 63.60 V66.80 M211.50 63.60 V66.80 M224.40 63.60 V66.80 M227.90 63.60 V66.80 M234.90 63.60 V66.80 M236.60 63.60 V66.80" stroke="#0DB577" stroke-width="1.8" fill="none" stroke-linejoin="miter" stroke-linecap="butt"/>
<path d="M46.7 47.5 H65.5 V48 H81.2 V57 H125.3 V70.4 H244.2 M100.50 53.80 V57.00 M114.20 53.80 V57.00 M116.00 53.80 V57.00 M121.80 53.80 V57.00 M131.00 67.20 V70.40 M217.40 67.20 V70.40 M222.00 67.20 V70.40 M223.80 67.20 V70.40 M244.20 67.20 V70.40" stroke="#E69F00" stroke-width="1.8" fill="none" stroke-linejoin="miter" stroke-linecap="butt"/>
<path d="M46.7 47.5 H61.5  H62.38 V47.70 H64.12 V47.90 H65.00 H65.73 V48.33 H67.18 V48.75 H68.62 V49.17 H70.08 V49.60 H70.80 H71.54 V50.45 H73.01 V51.30 H74.49 V52.15 H75.96 V53.00 H76.70 H77.43 V53.58 H78.88 V54.15 H80.33 V54.72 H81.78 V55.30 H82.50 H83.24 V55.62 H84.71 V55.95 H86.19 V56.27 H87.66 V56.60 H88.40 H89.13 V57.05 H90.58 V57.50 H92.03 V57.95 H93.48 V58.40 H94.20 H94.93 V58.85 H96.38 V59.30 H97.83 V59.75 H99.28 V60.20 H100.00 H100.66 V60.52 H101.98 V60.84 H103.30 V61.16 H104.62 V61.48 H105.94 V61.80 H106.60 H107.33 V61.82 H108.78 V61.83 H110.22 V61.85 H111.67 V61.87 H113.12 V61.88 H114.58 V61.90 H116.03 V61.92 H117.48 V61.93 H118.93 V61.95 H120.38 V61.97 H121.83 V61.98 H123.28 V62.00 H124.00 H136.3 V67.1 H155 V71.9 H258.2 M47.00 44.30 V47.50 M55.80 44.30 V47.50 M56.80 44.30 V47.50 M58.80 44.30 V47.50 M60.00 44.30 V47.50 M158.00 68.70 V71.90 M163.00 68.70 V71.90 M170.00 68.70 V71.90 M176.00 68.70 V71.90 M182.00 68.70 V71.90 M190.00 68.70 V71.90 M199.00 68.70 V71.90 M208.00 68.70 V71.90 M218.00 68.70 V71.90 M220.00 68.70 V71.90 M222.50 68.70 V71.90 M224.00 68.70 V71.90 M226.50 68.70 V71.90 M228.00 68.70 V71.90 M258.20 68.70 V71.90" stroke="#CC79A7" stroke-width="1.9" fill="none" stroke-linejoin="miter" stroke-linecap="butt"/>
<path d="M61.50 47.50 H62.38 V47.70 H64.12 V47.90 H65.00 H65.73 V48.33 H67.18 V48.75 H68.62 V49.17 H70.08 V49.60 H70.80 H71.54 V50.45 H73.01 V51.30 H74.49 V52.15 H75.96 V53.00 H76.70" stroke="#CC79A7" stroke-width="3.2" fill="none" stroke-linejoin="round"/>
<path d="M76.70 53.00 H77.43 V53.58 H78.88 V54.15 H80.33 V54.72 H81.78 V55.30 H82.50 H83.24 V55.62 H84.71 V55.95 H86.19 V56.27 H87.66 V56.60 H88.40 H89.13 V57.05 H90.58 V57.50 H92.03 V57.95 H93.48 V58.40 H94.20 H94.93 V58.85 H96.38 V59.30 H97.83 V59.75 H99.28 V60.20 H100.00 H100.66 V60.52 H101.98 V60.84 H103.30 V61.16 H104.62 V61.48 H105.94 V61.80 H106.60 H107.33 V61.82 H108.78 V61.83 H110.22 V61.85 H111.67 V61.87 H113.12 V61.88 H114.58 V61.90 H116.03 V61.92 H117.48 V61.93 H118.93 V61.95 H120.38 V61.97 H121.83 V61.98 H123.28 V62.00 H124.00 H135.8" stroke="#CC79A7" stroke-width="4.2" fill="none" stroke-linejoin="round"/>
<path d="M136.3 66.9 H154.5" stroke="#CC79A7" stroke-width="3.3" fill="none" stroke-linejoin="round"/>
<path d="M46.7 47.2 V214.9" stroke="#000" stroke-width="1.75" fill="none"/>
<path d="M40.5 208.0 H287.70 V214.9" stroke="#000" stroke-width="1.75" fill="none"/>
<path d="M40.5 175.90 H46.7" stroke="#000" stroke-width="1.75"/>
<path d="M40.5 143.80 H46.7" stroke="#000" stroke-width="1.75"/>
<path d="M40.5 111.70 H46.7" stroke="#000" stroke-width="1.75"/>
<path d="M40.5 79.60 H46.7" stroke="#000" stroke-width="1.75"/>
<path d="M40.5 47.50 H46.7" stroke="#000" stroke-width="1.75"/>
<path d="M106.95 208.0 V214.9" stroke="#000" stroke-width="1.75"/>
<path d="M167.20 208.0 V214.9" stroke="#000" stroke-width="1.75"/>
<path d="M227.45 208.0 V214.9" stroke="#000" stroke-width="1.75"/>
<text x="38.3" y="212.20" class="tl" text-anchor="end">0.0</text>
<text x="38.3" y="180.10" class="tl" text-anchor="end">0.2</text>
<text x="38.3" y="148.00" class="tl" text-anchor="end">0.4</text>
<text x="38.3" y="115.90" class="tl" text-anchor="end">0.6</text>
<text x="38.3" y="83.80" class="tl" text-anchor="end">0.8</text>
<text x="38.3" y="51.70" class="tl" text-anchor="end">1.0</text>
<text x="46.70" y="227.7" class="tl" text-anchor="middle">0</text>
<text x="106.95" y="227.7" class="tl" text-anchor="middle">5</text>
<text x="167.20" y="227.7" class="tl" text-anchor="middle">10</text>
<text x="227.45" y="227.7" class="tl" text-anchor="middle">15</text>
<text x="287.70" y="227.7" class="tl" text-anchor="middle">20</text>
<path d="M190.3 146.30 H207.8" stroke="#CC79A7" stroke-width="1.7"/>
<text x="217.6" y="150.00" class="lg">ER-negative</text>
<path d="M190.3 161.50 H207.8" stroke="#E69F00" stroke-width="1.7"/>
<text x="217.6" y="165.20" class="lg">ER-low positive</text>
<path d="M190.3 176.70 H207.8" stroke="#0DB577" stroke-width="1.7"/>
<text x="217.6" y="180.40" class="lg">ER-intermediate positive</text>
<path d="M190.3 191.90 H207.8" stroke="#0072B2" stroke-width="1.7"/>
<text x="217.6" y="195.60" class="lg">ER-high positive</text>
<text x="80.0" y="181.7" class="pv">p=0.003</text>
</g>
</svg>
</body></html>
